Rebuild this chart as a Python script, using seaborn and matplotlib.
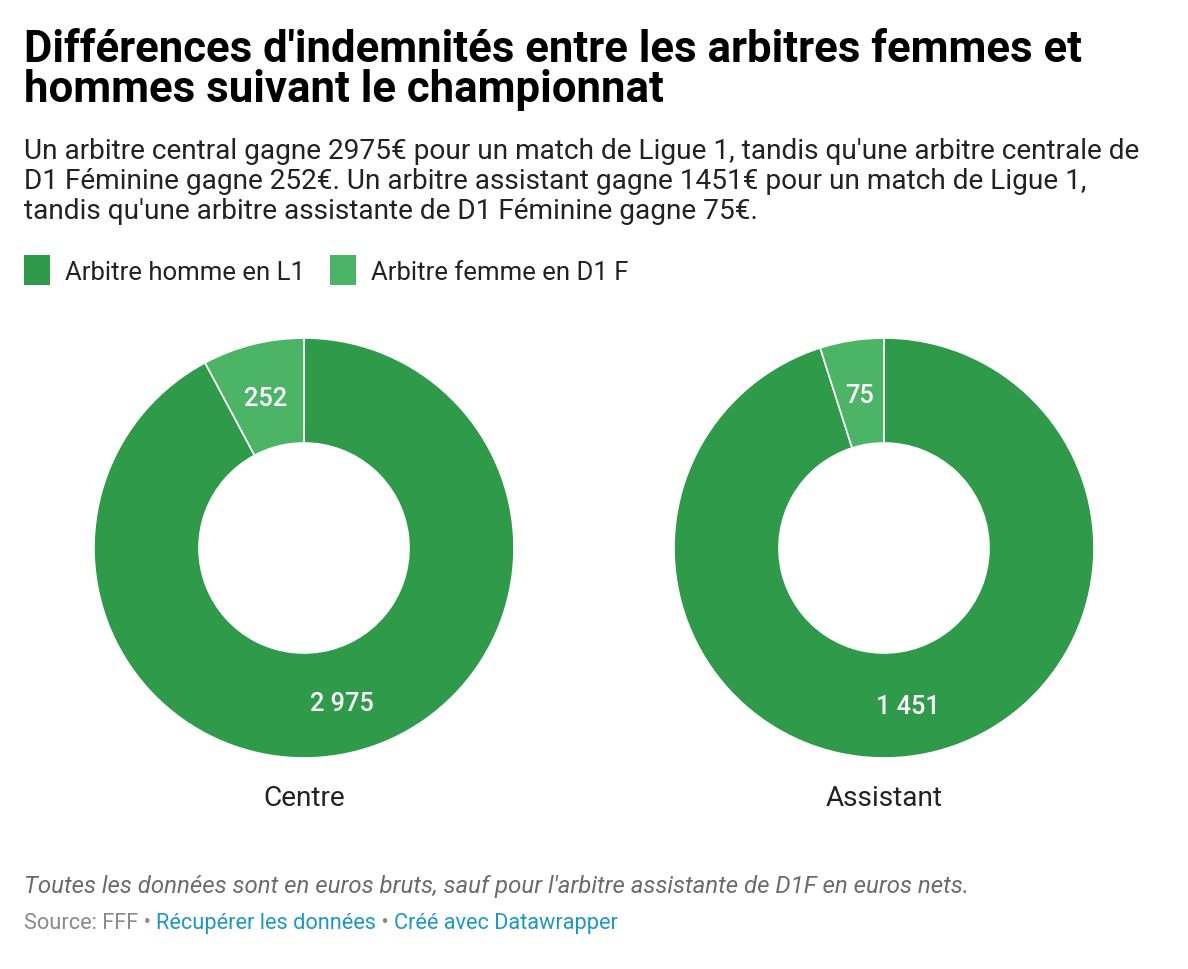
import matplotlib
matplotlib.use("Agg")
import matplotlib.pyplot as plt
import seaborn as sns
import numpy as np

# ---- data ----
categories = ["Centre", "Assistant"]
homme_l1 = [2975, 1451]
femme_d1f = [252, 75]
series_labels = ["Arbitre homme en L1", "Arbitre femme en D1 F"]

title_lines = ["Différences d'indemnités entre les arbitres femmes et",
               "hommes suivant le championnat"]
subtitle_lines = ["Un arbitre central gagne 2975€ pour un match de Ligue 1, tandis qu'une arbitre centrale de",
                  "D1 Féminine gagne 252€. Un arbitre assistant gagne 1451€ pour un match de Ligue 1,",
                  "tandis qu'une arbitre assistante de D1 Féminine gagne 75€."]
note = "Toutes les données sont en euros bruts, sauf pour l'arbitre assistante de D1F en euros nets."
source_parts = [("Source: FFF • ", "#8a8a8a"), ("Récupérer les données", "#1d97c6"),
                (" • ", "#8a8a8a"), ("Créé avec Datawrapper", "#1d97c6")]

sns.set_theme(style="white")
plt.rcParams['font.family'] = ['Roboto', 'DejaVu Sans']

colors = ["#2f9a4a", "#4cb466"]

W, H = 1188, 970
fig = plt.figure(figsize=(W / 100, H / 100), dpi=100)
fig.patch.set_facecolor("white")

def fx(x):
    return x / W

def fy(y):
    return 1 - y / H

# title
for i, line in enumerate(title_lines):
    fig.text(fx(24), fy(62 + 40 * i), line, fontsize=31.5, fontweight="bold",
             color="#000000", va="baseline", ha="left")
# subtitle
for i, line in enumerate(subtitle_lines):
    fig.text(fx(24), fy(159 + 30 * i), line, fontsize=20.2, color="#222222",
             va="baseline", ha="left")

# legend
leg_x = [24, 330]
for i, lab in enumerate(series_labels):
    fig.patches.append(matplotlib.patches.Rectangle(
        (fx(leg_x[i]), fy(286)), 26 / W, 30 / H, transform=fig.transFigure,
        facecolor=colors[i], edgecolor="none"))
    fig.text(fx(leg_x[i] + 41), fy(280), lab, fontsize=18.5, color="#222222",
             va="baseline", ha="left")

# donuts
centers_x = [304, 884]
cy = 549
R = 210
for k, cat in enumerate(categories):
    cx = centers_x[k]
    ax = fig.add_axes([fx(cx - R), fy(cy + R), 2 * R / W, 2 * R / H])
    vals = [homme_l1[k], femme_d1f[k]]
    wedges, _ = ax.pie(vals, colors=colors, startangle=90, counterclock=False,
                       radius=1, wedgeprops=dict(width=0.5, edgecolor="white",
                                                 linewidth=1.2))
    for w, v in zip(wedges, vals):
        ang = np.deg2rad((w.theta1 + w.theta2) / 2)
        r = 0.75
        ax.text(r * np.cos(ang), r * np.sin(ang), f"{v:,}".replace(",", " "),
                ha="center", va="center_baseline", color="white", fontsize=18.2,
                fontweight="medium")
    ax.set_xlim(-1, 1)
    ax.set_ylim(-1, 1)
    ax.set_aspect("equal")
    ax.axis("off")
    fig.text(fx(cx), fy(806), cat, fontsize=20.2, color="#222222",
             ha="center", va="baseline")

# footer
fig.text(fx(24), fy(893), note, fontsize=17.3, style="italic",
         color="#6b6b6b", va="baseline", ha="left")

fig.canvas.draw()
renderer = fig.canvas.get_renderer()
x = 24
for txt, col in source_parts:
    t = fig.text(fx(x), fy(929), txt, fontsize=15.7, color=col,
                 va="baseline", ha="left")
    bb = t.get_window_extent(renderer=renderer)
    x += bb.width

fig.savefig("out.png", dpi=100, facecolor="white")
